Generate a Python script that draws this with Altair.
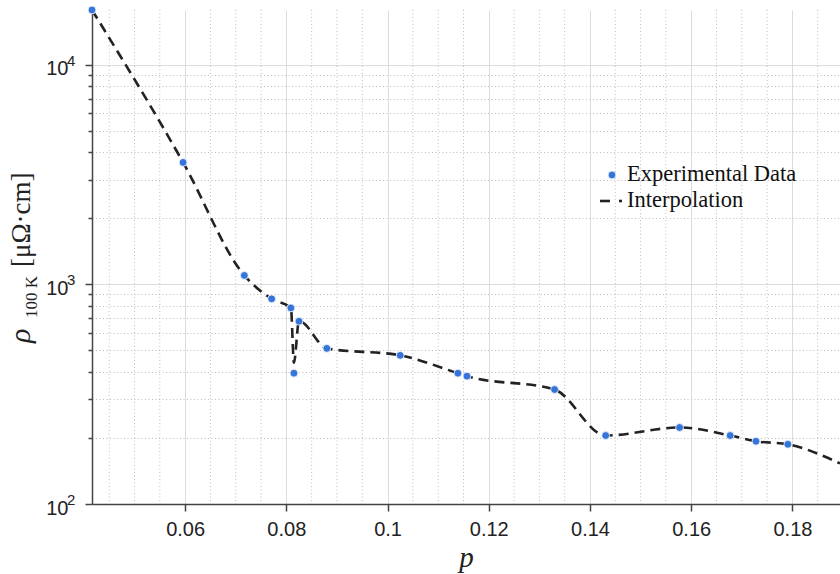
import altair as alt
import pandas as pd

p_data = [0.0416, 0.0596, 0.0717, 0.0771, 0.0809, 0.0815, 0.0825, 0.0880, 0.1025,
          0.1139, 0.1157, 0.1330, 0.1431, 0.1577, 0.1677, 0.1728, 0.1791]
rho_data = [17740, 3590, 1098, 859, 781, 394, 679, 511, 475,
            394, 382, 332, 205, 223, 205, 193, 187]

# Interpolation curve knots
p_interp = [0.0416, 0.0596, 0.0717, 0.0771, 0.0809, 0.0815, 0.0825, 0.0880, 0.1025,
            0.1139, 0.1157, 0.1330, 0.1431, 0.1577, 0.1677, 0.1728, 0.1791, 0.1894]
rho_interp = [17740, 3590, 1098, 859, 781, 440, 679, 511, 475,
              394, 382, 332, 205, 223, 205, 193, 187, 153]

x_major = [0.06, 0.08, 0.1, 0.12, 0.14, 0.16, 0.18]
x_minor = [0.045, 0.05, 0.055, 0.065, 0.07, 0.075, 0.085, 0.09, 0.095,
           0.105, 0.11, 0.115, 0.125, 0.13, 0.135, 0.145, 0.15,
           0.155, 0.165, 0.17, 0.175, 0.185]
y_ticks = [100, 200, 300, 400, 500, 600, 700, 800, 900,
           1000, 2000, 3000, 4000, 5000, 6000, 7000, 8000, 9000, 10000]
y_major = [100, 1000, 10000]
y_exponent = ["2", "3", "4"]

legend_labels = ["Experimental Data", "Interpolation"]

pts = pd.DataFrame({"p": p_data, "rho": rho_data})
line_df = pd.DataFrame({"p": p_interp, "rho": rho_interp})
exp_df = pd.DataFrame({"v": y_major, "e": y_exponent})
xminor_df = pd.DataFrame({"p": x_minor})
one = pd.DataFrame({"a": [0]})

major_y = "indexof([" + ",".join(str(v) for v in y_major) + "], datum.value) >= 0"

BLUE = "#3574d9"
AX = "#444444"
GRID_MAJOR = "#dcdcdc"
GRID_MINOR = "#bdbdbd"

xscale = alt.Scale(domain=[0.0416, 0.1894], nice=False, zero=False)
yscale = alt.Scale(type="log", domain=[100, 17740], nice=False)

xaxis = alt.Axis(
    values=x_major,
    format="~g",
    title="p",
    titleFont="Liberation Serif", titleFontStyle="italic", titleFontWeight="normal",
    titleFontSize=29, titleColor="#222222",
    titleY=62, titleBaseline="alphabetic",
    labelFont="Liberation Sans", labelFontSize=20, labelColor="#222222",
    labelPadding=8, labelOverlap=False, labelBound=False, labelFlush=False,
    tickSize=7, tickColor=AX, tickWidth=1.5,
    domainColor=AX, domainWidth=1.5,
    grid=True, gridColor=GRID_MAJOR, gridWidth=1,
)

yaxis = alt.Axis(
    values=y_ticks,
    title=None,
    labelExpr=f"({major_y}) ? '10' : ''",
    labelFont="Liberation Sans", labelFontSize=20, labelColor="#222222",
    labelPadding=17, labelOverlap=False, labelBound=False, labelFlush=False,
    labelOffset=4,
    tickSize={"condition": {"test": major_y, "value": 7}, "value": 4},
    tickColor=AX, tickWidth=1.5,
    domainColor=AX, domainWidth=1.5,
    grid=True,
    gridDash={"condition": {"test": major_y, "value": []}, "value": [1, 2.5]},
    gridColor={"condition": {"test": major_y, "value": GRID_MAJOR}, "value": GRID_MINOR},
    gridWidth=1,
)

# minor vertical grid lines (dotted)
xminor = alt.Chart(xminor_df).mark_rule(
    color=GRID_MINOR, strokeWidth=1, strokeDash=[1, 2.5]
).encode(x=alt.X("p:Q", scale=xscale))

line = alt.Chart(line_df).mark_line(
    color="#222222", strokeWidth=2.6, strokeDash=[10, 6], interpolate="monotone", clip=True
).encode(
    x=alt.X("p:Q", scale=xscale, axis=xaxis),
    y=alt.Y("rho:Q", scale=yscale, axis=yaxis),
)

points = alt.Chart(pts).mark_circle(
    color=BLUE, size=62, opacity=1, stroke="white", strokeWidth=0.8
).encode(
    x=alt.X("p:Q", scale=xscale),
    y=alt.Y("rho:Q", scale=yscale),
)

# superscript exponents of the y tick labels
exps = alt.Chart(exp_df).mark_text(
    font="Liberation Sans", fontSize=15, color="#222222", align="left", baseline="middle", dy=-4
).encode(
    x=alt.value(-25),
    y=alt.Y("v:Q", scale=yscale),
    text="e:N",
)

# Legend (manual, MATLAB style)
leg_dot = alt.Chart(one).mark_circle(color=BLUE, size=62, opacity=1, stroke="white", strokeWidth=0.8).encode(
    x=alt.value(520), y=alt.value(165))
leg_dash = alt.Chart(one).mark_rule(color="#222222", strokeWidth=2.6).encode(
    x=alt.value(508), x2=alt.value(518), y=alt.value(191))
leg_dot2 = alt.Chart(one).mark_rule(color="#222222", strokeWidth=2.6).encode(
    x=alt.value(527), x2=alt.value(530), y=alt.value(191))
leg_t1 = alt.Chart(one).mark_text(
    text=legend_labels[0], font="Liberation Serif", fontSize=22.5, color="#111111",
    align="left", baseline="middle").encode(x=alt.value(535), y=alt.value(164))
leg_t2 = alt.Chart(one).mark_text(
    text=legend_labels[1], font="Liberation Serif", fontSize=22.5, color="#111111",
    align="left", baseline="middle").encode(x=alt.value(535), y=alt.value(190))

# Y axis title: rho_{100 K} [muOmega.cm]
yt1 = alt.Chart(one).mark_text(
    text="ρ", font="Liberation Serif", fontStyle="italic", fontSize=30, color="#222222",
    angle=270, align="left", baseline="alphabetic").encode(x=alt.value(-62), y=alt.value(333))
yt2 = alt.Chart(one).mark_text(
    text="100 K", font="Liberation Serif", fontSize=17, color="#222222",
    angle=270, align="left", baseline="alphabetic").encode(x=alt.value(-55), y=alt.value(308))
yt3 = alt.Chart(one).mark_text(
    text="[μΩ·cm]", font="Liberation Serif", fontSize=27, color="#222222",
    angle=270, align="left", baseline="alphabetic").encode(x=alt.value(-62), y=alt.value(257))

chart = alt.layer(
    xminor, line, points, exps, leg_dot, leg_dash, leg_dot2, leg_t1, leg_t2, yt1, yt2, yt3
).properties(
    width=748, height=494,
    autosize=alt.AutoSizeParams(type="none"),
    padding={"left": 92, "top": 10, "right": 0, "bottom": 70},
    background="white",
).configure_view(stroke=None)

chart.save("out.html", embed_options={"renderer": "svg", "actions": False})
